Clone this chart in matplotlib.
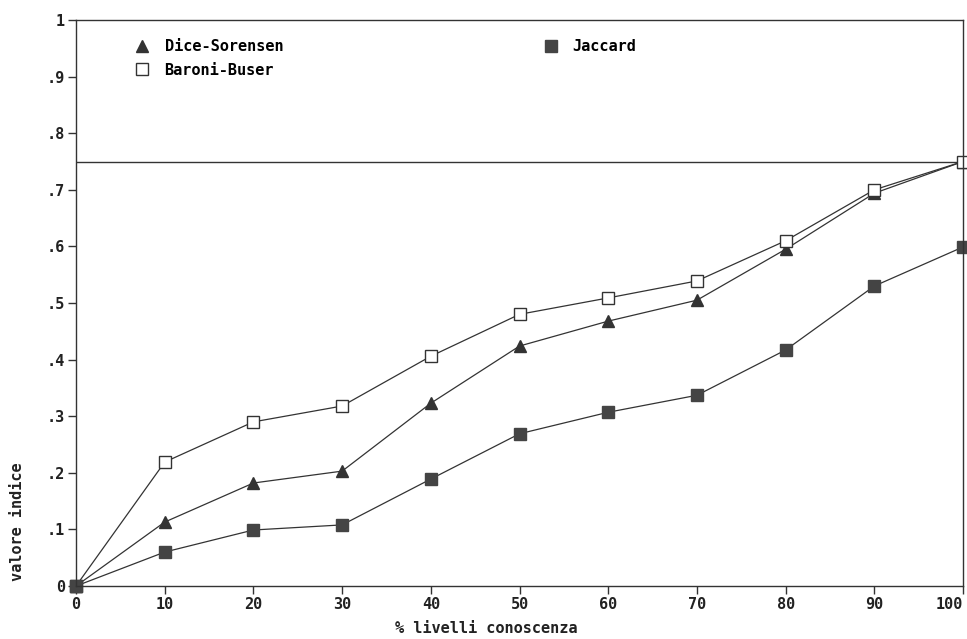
import numpy as np
from matplotlib import pyplot as plt
from matplotlib.lines import Line2D

# percent of knowledge levels
livelli = [0, 10, 20, 30, 40, 50, 60, 70, 80, 90, 100]

dice_sorensen = [0, 0.113, 0.182, 0.203, 0.323, 0.424, 0.468, 0.505, 0.595, 0.694, 0.75]
baroni_buser = [0, 0.219, 0.290, 0.318, 0.406, 0.480, 0.509, 0.539, 0.610, 0.700, 0.75]
jaccard = [0, 0.060, 0.099, 0.108, 0.189, 0.269, 0.307, 0.337, 0.417, 0.530, 0.599]

soglia = 0.75

y_ticks = [0, 0.1, 0.2, 0.3, 0.4, 0.5, 0.6, 0.7, 0.8, 0.9, 1.0]
y_labels = ['0', '.1', '.2', '.3', '.4', '.5', '.6', '.7', '.8', '.9', '1']

plt.rcParams['font.family'] = ['DejaVu Sans Mono']
plt.rcParams['font.weight'] = 'bold'

ink = '#333333'
txt = '#222222'

fig = plt.figure(figsize=(9.67, 6.39), dpi=100)
ax = fig.add_axes([0.0786, 0.0829, 0.9173, 0.8858])

ax.axhline(soglia, color=ink, lw=1.0)

ax.plot(livelli, dice_sorensen, color=ink, lw=0.9, marker='^', ms=9,
        mfc=ink, mec=ink, clip_on=False)
ax.plot(livelli, baroni_buser, color=ink, lw=0.9, marker='s', ms=9,
        mfc='white', mec=ink, mew=1.0, clip_on=False)
ax.plot(livelli, jaccard, color=ink, lw=0.9, marker='s', ms=9,
        mfc='#444444', mec='#444444', clip_on=False)

ax.set_xlim(0, 100)
ax.set_ylim(0, 1)
ax.set_xticks(livelli)
ax.set_yticks(y_ticks)
ax.set_yticklabels(y_labels)
ax.tick_params(direction='out', length=6, width=1, color=ink,
               labelsize=11, labelcolor=txt, pad=2)
# last x label sits inside the figure, left of its tick
ultimo = ax.get_xticklabels()[-1]
ultimo.set_ha('right')

for s in ax.spines.values():
    s.set_color(ink)
    s.set_linewidth(1.0)

fig.text(0.503, 0.017, '% livelli conoscenza', ha='center', va='center',
         fontsize=11, color=txt)
fig.text(0.018, 0.183, 'valore indice', rotation=90, ha='center', va='center',
         fontsize=11, color=txt)

handles = [
    Line2D([], [], ls='none', marker='^', ms=9, mfc=ink, mec=ink),
    Line2D([], [], ls='none', marker='s', ms=9, mfc='white', mec=ink),
    Line2D([], [], ls='none', marker='s', ms=9, mfc='#444444', mec='#444444'),
]
nomi = ['Dice-Sorensen', 'Baroni-Buser', 'Jaccard']
ax.legend(handles, nomi, ncol=2, loc='upper left', bbox_to_anchor=(0.049, 0.99),
          frameon=False, fontsize=11, columnspacing=16.9, handlelength=1.2,
          handletextpad=0.85, numpoints=1, labelspacing=0.55)

fig.savefig('out.png', dpi=100)
